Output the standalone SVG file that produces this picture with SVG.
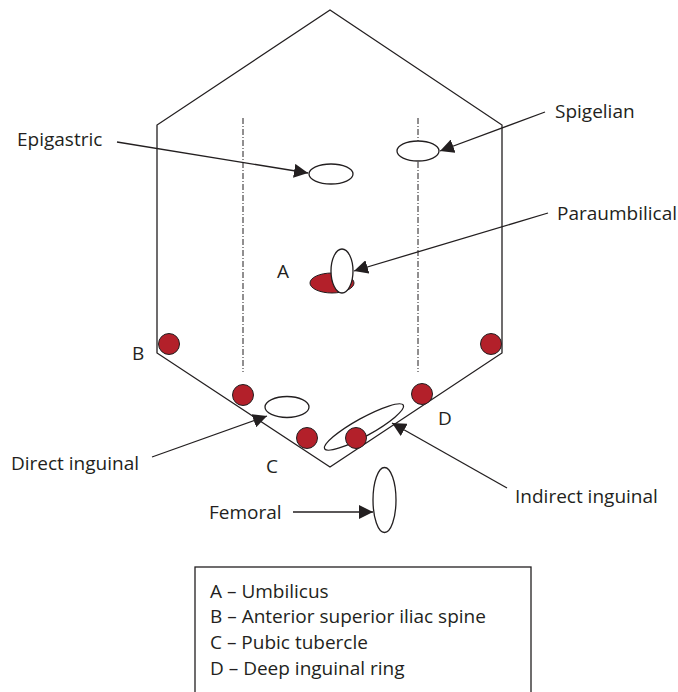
<svg xmlns="http://www.w3.org/2000/svg" width="678" height="692" viewBox="0 0 678 692">
<defs>
<style>
.ln{fill:none;stroke:#231f20;stroke-width:1.3}
.dd{fill:none;stroke:#231f20;stroke-width:1;stroke-dasharray:6 2 1 2}
.dot{fill:#b3202a;stroke:#231f20;stroke-width:1}
.hole{fill:#fff;stroke:#231f20;stroke-width:1.3}
.t{font-family:"Open Sans","Liberation Sans",sans-serif;font-size:19px;fill:#231f20}
.ar{fill:none;stroke:#231f20;stroke-width:1.3;marker-end:url(#ah)}
</style>
<marker id="ah" viewBox="0 0 10 10" refX="10" refY="5" markerWidth="14" markerHeight="14" markerUnits="userSpaceOnUse" orient="auto">
<path d="M0,0 L10,5 L0,10 z" fill="#231f20"/>
</marker>
</defs>
<rect width="678" height="692" fill="#fff"/>
<g id="outline">
<path class="ln" d="M330,10 L502,125 L502,353 L330,467 L157,353 L157,125 Z"/>
<line class="dd" x1="243" y1="118" x2="243" y2="372"/>
<line class="dd" x1="418" y1="118" x2="418" y2="372"/>
</g>
<g id="umbilicus">
<ellipse class="dot" cx="332" cy="283" rx="22" ry="10"/>
<ellipse class="hole" cx="342" cy="271" rx="11" ry="22"/>
<text class="t" x="277" y="278">A</text>
</g>
<g id="asis">
<circle class="dot" cx="169" cy="344" r="10.5"/>
<circle class="dot" cx="491" cy="344" r="10.5"/>
<text class="t" x="132" y="360">B</text>
</g>
<g id="pubic">
<circle class="dot" cx="243" cy="395" r="10.5"/>
<circle class="dot" cx="307" cy="438" r="10.5"/>
<text class="t" x="266" y="473">C</text>
</g>
<g id="deep-ring">
<circle class="dot" cx="422" cy="394" r="10.5"/>
<text class="t" x="438" y="425">D</text>
</g>
<g id="epigastric">
<ellipse class="hole" cx="331" cy="174" rx="22" ry="10"/>
<text class="t" x="17" y="146">Epigastric</text>
</g>
<g id="spigelian">
<ellipse class="hole" cx="418" cy="151" rx="21" ry="10"/>
<text class="t" x="555" y="118">Spigelian</text>
</g>
<g id="paraumbilical">
<text class="t" x="557" y="220">Paraumbilical</text>
</g>
<g id="direct">
<ellipse class="hole" cx="287" cy="407" rx="22" ry="10.5"/>
<text class="t" x="11" y="470">Direct inguinal</text>
</g>
<g id="indirect">
<ellipse class="hole" cx="364" cy="427" rx="45" ry="9" transform="rotate(-29 364 427)"/>
<circle class="dot" cx="356" cy="438" r="10.5"/>
<text class="t" x="515" y="503">Indirect inguinal</text>
</g>
<g id="femoral">
<ellipse class="hole" cx="384.5" cy="500" rx="11.5" ry="32.5"/>
<text class="t" x="209" y="519">Femoral</text>
</g>
<g id="connectors">
<line class="ar" x1="117" y1="142" x2="308" y2="173"/>
<line class="ar" x1="545" y1="112" x2="440" y2="151"/>
<line class="ar" x1="548" y1="213" x2="354" y2="271"/>
<line class="ar" x1="152" y1="457" x2="267" y2="416"/>
<line class="ar" x1="507" y1="488" x2="392" y2="423"/>
<line class="ar" x1="293" y1="512" x2="373" y2="512"/>
</g>
<g id="legend">
<rect x="195" y="567" width="336" height="140" fill="none" stroke="#231f20" stroke-width="1.3"/>
<text class="t" x="210" y="598">A – Umbilicus</text>
<text class="t" x="210" y="623">B – Anterior superior iliac spine</text>
<text class="t" x="210" y="649">C – Pubic tubercle</text>
<text class="t" x="210" y="675">D – Deep inguinal ring</text>
</g>
</svg>
